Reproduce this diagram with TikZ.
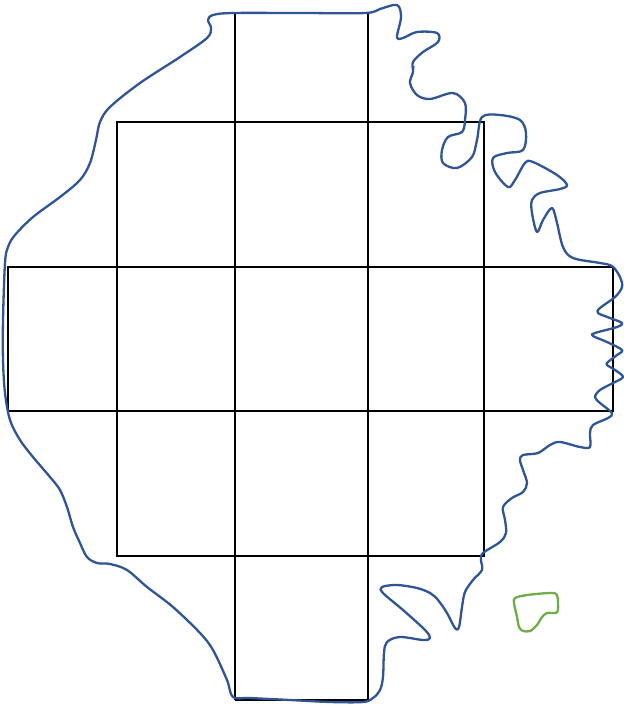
\documentclass[tikz,border=0pt]{standalone}
\definecolor{curveblue}{HTML}{2F5597}
\definecolor{curvegreen}{HTML}{70AD47}
\begin{document}
\begin{tikzpicture}[x=1pt,y=-1pt,
  gridline/.style={black,line width=1.5pt},
  blueline/.style={curveblue,line width=2.3pt,line join=round,line cap=round},
  greenline/.style={curvegreen,line width=2.3pt,line join=round}]
\useasboundingbox (0,0) rectangle (624,705);
% grid
\draw[gridline] (235,13) -- (368,13) (235,700) -- (368,700);
\draw[gridline] (235,13) -- (235,700) (368,13) -- (368,700);
\draw[gridline] (117,122) rectangle (484,556);
\draw[gridline] (8,267) rectangle (613,411);
% blue outline
\draw[blueline] plot[smooth cycle, tension=0.55] coordinates {
 (233,697) (227,680) (213,650) (200,633) (173,607) (147,587) (127,570)
 (110,564) (97,563) (87,557) (80,543) (73,527) (67,507) (60,490) (50,477)
 (33,457) (20,440) (10,420) (5,393) (3,360) (3,320) (5,263) (8,247) (15,235)
 (33,217) (60,197) (80,180) (90,163) (96,140) (100,122) (110,107) (140,83)
 (180,57) (207,38) (211,28) (208,20) (213,15) (233,13) (300,13) (365,13)
 (380,9) (397,5) (401,17) (397,37) (403,38) (417,32) (437,33) (438,42)
 (423,52) (413,62) (413,72) (410,83) (417,95) (430,99) (453,93) (465,103)
 (465,120) (462,132) (448,137) (442,150) (443,163) (457,168) (472,157)
 (477,140) (482,117) (500,115) (520,120) (526,133) (523,150) (507,153)
 (493,158) (495,172) (508,187) (515,180) (525,163) (533,162) (557,175)
 (567,185) (560,189) (540,193) (532,200) (532,213) (537,232) (543,220)
 (552,208) (557,223) (563,247) (573,258) (600,263) (612,266) (620,277)
 (622,287) (615,297) (600,308) (598,313) (610,318) (622,323) (617,327)
 (595,333) (593,336) (607,342) (622,350) (617,355) (608,362) (607,365)
 (615,370) (623,377) (613,383) (600,390) (595,397) (600,403) (612,413)
 (608,418) (593,425) (590,433) (590,447) (580,447) (560,442) (550,445)
 (538,453) (523,455) (520,460) (523,470) (527,483) (523,492) (512,498)
 (503,507) (505,520) (506,533) (500,542) (483,553) (481,560) (482,570)
 (473,580) (465,592) (462,607) (459,627) (455,628) (447,613) (438,600)
 (430,593) (417,588) (397,585) (382,587) (383,593) (403,610) (425,630)
 (430,638) (423,640) (400,637) (387,642) (384,653) (383,677) (380,690)
 (373,698) (363,702) (330,702) (290,700) (250,698)};
% small tick on the blue outline
\draw[curveblue,line width=1.2pt] (413,73) -- (414,66);
% green shape
\draw[greenline] plot[smooth cycle, tension=0.5] coordinates {
 (515,598) (527,595) (550,593) (557,595) (558,610) (555,613) (547,613)
 (542,617) (537,625) (530,631) (523,631) (519,627) (517,617) (514,603)};
\end{tikzpicture}
\end{document}
